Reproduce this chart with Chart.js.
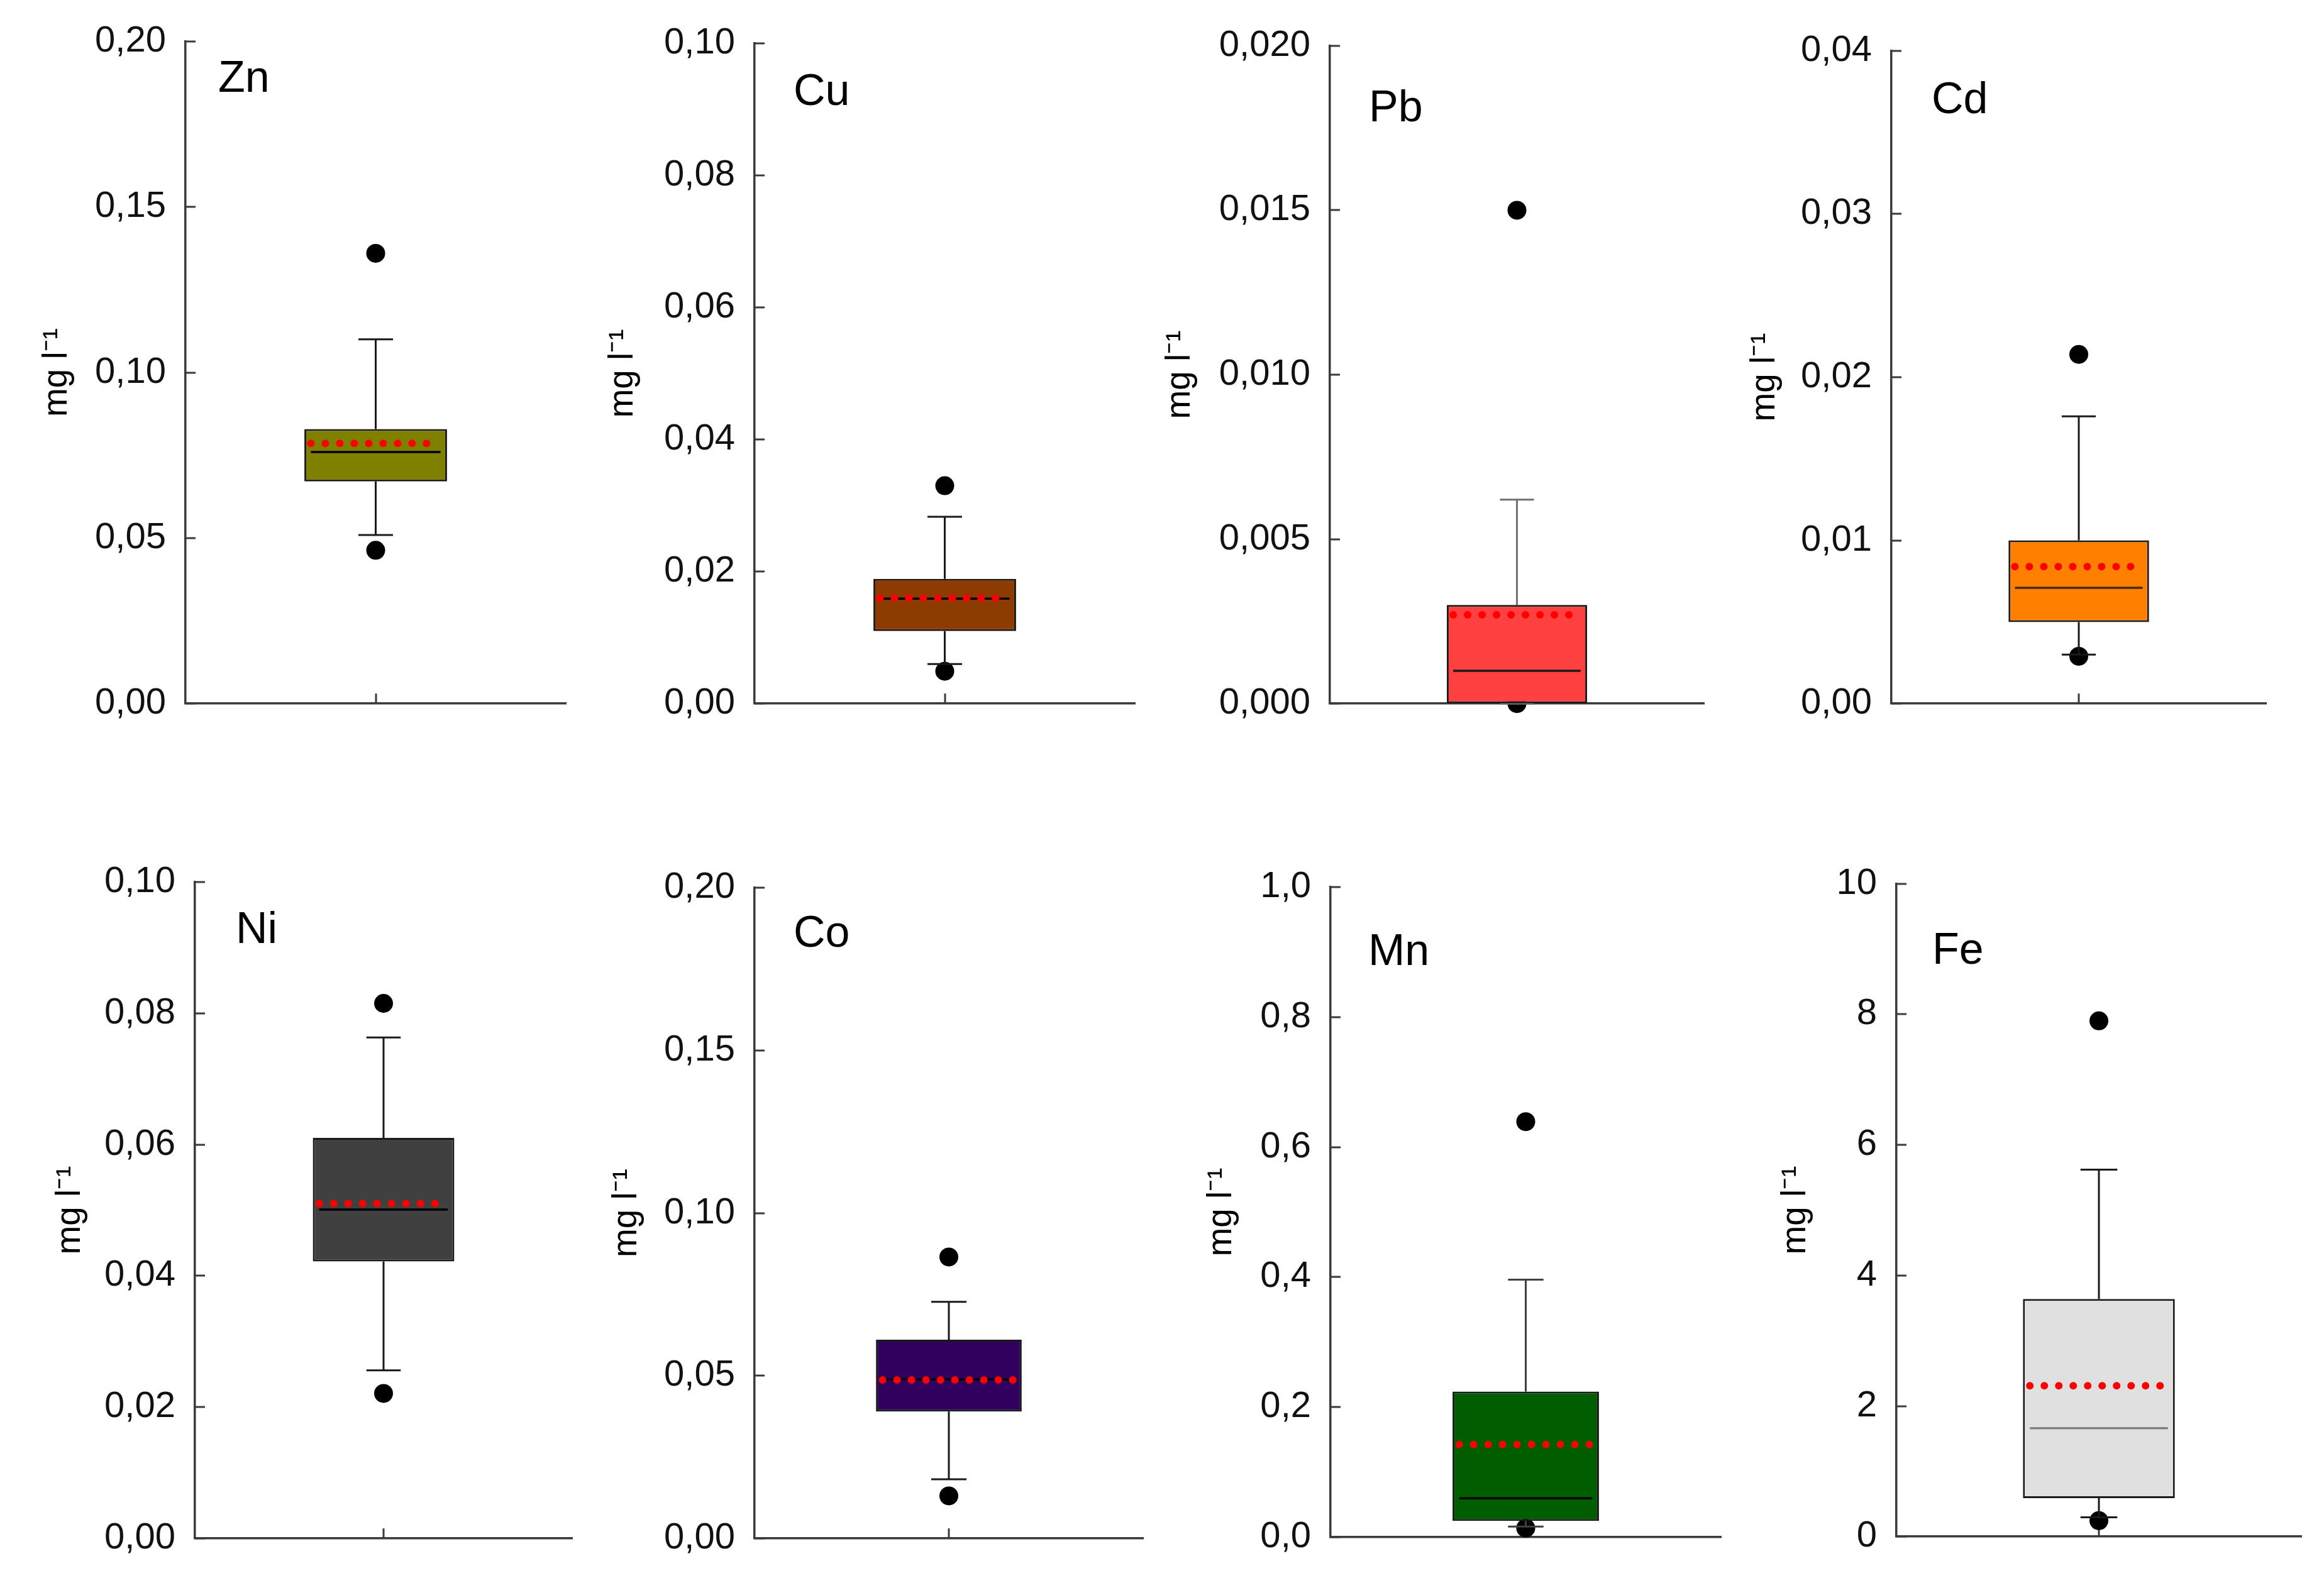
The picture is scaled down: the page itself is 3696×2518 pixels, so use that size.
<!DOCTYPE html>
<html>
<head>
<meta charset="utf-8">
<script src="https://cdn.jsdelivr.net/npm/chart.js@4.4.1/dist/chart.umd.min.js"></script>
<style>
html, body { margin: 0; padding: 0; background: #ffffff; }
#wrap { position: relative; width: 3696px; height: 2518px; overflow: hidden; background: #ffffff; }
.panel { position: absolute; }
</style>
</head>
<body>
<div id="wrap"></div>
<script>
// ---------------- DATA ----------------
const elements     = ['Zn', 'Cu', 'Pb', 'Cd', 'Ni', 'Co', 'Mn', 'Fe'];
const axisMax      = [0.20, 0.10, 0.020, 0.04, 0.10, 0.20, 1.0, 10];
const tickStep     = [0.05, 0.02, 0.005, 0.01, 0.02, 0.05, 0.2, 2];
const tickDecimals = [2, 2, 3, 2, 2, 2, 1, 0];
const yAxisTitle   = 'mg l\u207B\u00B9';

const whiskerLow   = [0.0509, 0.0060, 0.0000, 0.0030, 0.0256, 0.0182, 0.0163, 0.296];
const quartile1    = [0.0671, 0.0110, 0.0000, 0.0050, 0.0422, 0.0390, 0.0252, 0.59];
const medianVal    = [0.0760, 0.0159, 0.0010, 0.0071, 0.0501, 0.0489, 0.0600, 1.66];
const quartile3    = [0.0829, 0.0189, 0.0030, 0.0100, 0.0610, 0.0611, 0.2240, 3.64];
const whiskerHigh  = [0.1100, 0.0283, 0.0062, 0.0176, 0.0763, 0.0727, 0.3960, 5.62];
const meanVal      = [0.0786, 0.0160, 0.0027, 0.0084, 0.0510, 0.0487, 0.1425, 2.31];
const outlierLow   = [0.0463, 0.0049, 0.0000, 0.0029, 0.0221, 0.0131, 0.0140, 0.244];
const outlierHigh  = [0.1360, 0.0330, 0.0150, 0.0214, 0.0815, 0.0865, 0.6390, 7.90];

// ---------------- STYLES ----------------
const boxColors     = ['#7f7f00', '#8e3b00', '#ff4040', '#ff8000', '#404040', '#31005f', '#005e00', '#e0e0e0'];
const medianColors  = ['#000000', '#000000', '#1a1a1a', '#4a2a00', '#000000', '#000000', '#000000', '#808080'];
const whiskerColors = ['#1a1a1a', '#1a1a1a', '#707070', '#1a1a1a', '#1a1a1a', '#1a1a1a', '#404040', '#1a1a1a'];

// ---------------- LAYOUT (pixel positions of each panel's axes) ----------------
// [axisLeft, axisRight, axisTop, axisBottom, nameDx, nameDy, yTitleOffset]
const panelLayout = [
  [295, 900, 60, 1125, 52, 80, 204],
  [1200, 1805, 63, 1125, 62, 98, 209],
  [2115, 2710, 67, 1125, 62, 120, 238],
  [3008, 3604, 75, 1125, 64, 99, 201],
  [310, 910, 1397, 2453, 65, 97, 198],
  [1200, 1818, 1406, 2453, 62, 94, 203],
  [2116, 2737, 1405, 2451, 60, 124, 173],
  [3016, 3660, 1400, 2450, 57, 127, 160]
];

const FONT = "'Liberation Sans', Arial, Helvetica, sans-serif";
const Y_AXIS_W = 320;
const PAD_T = 60, PAD_B = 60, PAD_R = 30;
const AXIS_COLOR = '#3a3a3a';
const BOX_FRACTION = 0.375;
const CAP_HALF = 0.05;
const CENTER = 0.5;
const TICK_LEN = 16;
const TITLE_SIZE = 55;
const NAME_SIZE = 70;

const decorPlugin = {
  id: 'decor',
  beforeDatasetsDraw(chart, args, opts) {
    const ctx = chart.ctx;
    const ca = chart.chartArea;
    const y = chart.scales.y;
    const x2 = chart.scales.x2;
    ctx.save();
    ctx.strokeStyle = AXIS_COLOR;
    ctx.lineWidth = 3;
    y.ticks.forEach(t => {
      const py = Math.round(y.getPixelForValue(t.value));
      ctx.beginPath();
      ctx.moveTo(ca.left, py);
      ctx.lineTo(ca.left + TICK_LEN, py);
      ctx.stroke();
    });
    const px = Math.round(x2.getPixelForValue(CENTER));
    ctx.beginPath();
    ctx.moveTo(px, ca.bottom);
    ctx.lineTo(px, ca.bottom - TICK_LEN);
    ctx.stroke();
    ctx.fillStyle = '#000000';
    ctx.font = NAME_SIZE + 'px ' + FONT;
    ctx.textBaseline = 'alphabetic';
    ctx.textAlign = 'left';
    ctx.fillText(opts.name, ca.left + opts.dx, ca.top + opts.dy);
    ctx.restore();
  }
};

const wrap = document.getElementById('wrap');

elements.forEach((name, i) => {
  const [aL, aR, aT, aB, nDx, nDy, yOff] = panelLayout[i];
  const w = Y_AXIS_W + (aR - aL) + PAD_R;
  const h = PAD_T + (aB - aT) + PAD_B;
  const div = document.createElement('div');
  div.className = 'panel';
  div.style.left = (aL - Y_AXIS_W) + 'px';
  div.style.top = (aT - PAD_T) + 'px';
  div.style.width = w + 'px';
  div.style.height = h + 'px';
  const cv = document.createElement('canvas');
  cv.width = w; cv.height = h;
  cv.style.width = w + 'px'; cv.style.height = h + 'px';
  div.appendChild(cv);
  wrap.appendChild(div);

  const half = BOX_FRACTION / 2;
  const lo = whiskerLow[i], hi = whiskerHigh[i];
  const whiskerData = [
    {x: CENTER, y: quartile3[i]}, {x: CENTER, y: hi}, {x: CENTER, y: null},
    {x: CENTER - CAP_HALF, y: hi}, {x: CENTER + CAP_HALF, y: hi}, {x: CENTER, y: null},
    {x: CENTER, y: quartile1[i]}, {x: CENTER, y: lo}, {x: CENTER, y: null},
    {x: CENTER - CAP_HALF, y: lo}, {x: CENTER + CAP_HALF, y: lo}
  ];
  const dec = tickDecimals[i];
  const titlePadTop = Y_AXIS_W - yOff - TITLE_SIZE * 1.2 / 2;

  new Chart(cv, {
    type: 'bar',
    data: {
      labels: [name],
      datasets: [
        {
          type: 'scatter', label: 'outliers', xAxisID: 'x2', yAxisID: 'y',
          data: [{x: CENTER, y: outlierLow[i]}, {x: CENTER, y: outlierHigh[i]}],
          pointRadius: 15, pointBackgroundColor: '#000000', pointBorderWidth: 0,
          showLine: false, order: 5, clip: false
        },
        {
          type: 'line', label: 'whiskers', xAxisID: 'x2', yAxisID: 'y',
          data: whiskerData, borderColor: whiskerColors[i], borderWidth: 3,
          pointRadius: 0, spanGaps: false, tension: 0, fill: false, order: 4, clip: false
        },
        {
          type: 'bar', label: 'box', xAxisID: 'x', yAxisID: 'y',
          data: [[quartile1[i], quartile3[i]]],
          backgroundColor: boxColors[i], borderColor: '#1a1a1a', borderWidth: 3,
          borderSkipped: false, grouped: false,
          barPercentage: BOX_FRACTION, categoryPercentage: 1.0,
          order: 3, clip: false
        },
        {
          type: 'line', label: 'median', xAxisID: 'x2', yAxisID: 'y',
          data: [{x: CENTER - half, y: medianVal[i]}, {x: CENTER + half, y: medianVal[i]}],
          borderColor: medianColors[i], borderWidth: 3.5, pointRadius: 0, fill: false,
          order: 2, clip: false
        },
        {
          type: 'line', label: 'mean', xAxisID: 'x2', yAxisID: 'y',
          data: [{x: CENTER - half, y: meanVal[i]}, {x: CENTER + half, y: meanVal[i]}],
          borderColor: '#ff0000', borderWidth: 12, borderDash: [0, 23], borderCapStyle: 'round',
          pointRadius: 0, fill: false, order: 1, clip: false
        }
      ]
    },
    options: {
      responsive: false,
      animation: false,
      devicePixelRatio: 1,
      events: [],
      layout: { padding: { left: 0, right: PAD_R, top: PAD_T, bottom: PAD_B } },
      plugins: {
        legend: { display: false },
        tooltip: { enabled: false },
        title: { display: false },
        decor: { name: name, dx: nDx, dy: nDy }
      },
      scales: {
        x: {
          type: 'category', position: 'bottom', offset: true,
          ticks: { display: false },
          grid: { display: true, drawOnChartArea: false, drawTicks: false, color: 'rgba(0,0,0,0)' },
          border: { display: true, color: AXIS_COLOR, width: 3.5 }
        },
        x2: {
          type: 'linear', axis: 'x', position: 'bottom', display: false, min: 0, max: 1
        },
        y: {
          type: 'linear', position: 'left', min: 0, max: axisMax[i],
          afterFit: (s) => { s.width = Y_AXIS_W; },
          ticks: {
            stepSize: tickStep[i], padding: 31, color: '#111111',
            font: { family: FONT, size: 58 },
            callback: (v) => Number(v).toFixed(dec).replace('.', ',')
          },
          grid: { display: true, drawOnChartArea: false, drawTicks: false, color: 'rgba(0,0,0,0)' },
          border: { display: true, color: AXIS_COLOR, width: 3.5 },
          title: {
            display: true, text: yAxisTitle, color: '#000000',
            font: { family: FONT, size: TITLE_SIZE },
            padding: { top: titlePadTop, bottom: 0 }
          }
        }
      }
    },
    plugins: [decorPlugin]
  });
});
</script>
</body>
</html>
